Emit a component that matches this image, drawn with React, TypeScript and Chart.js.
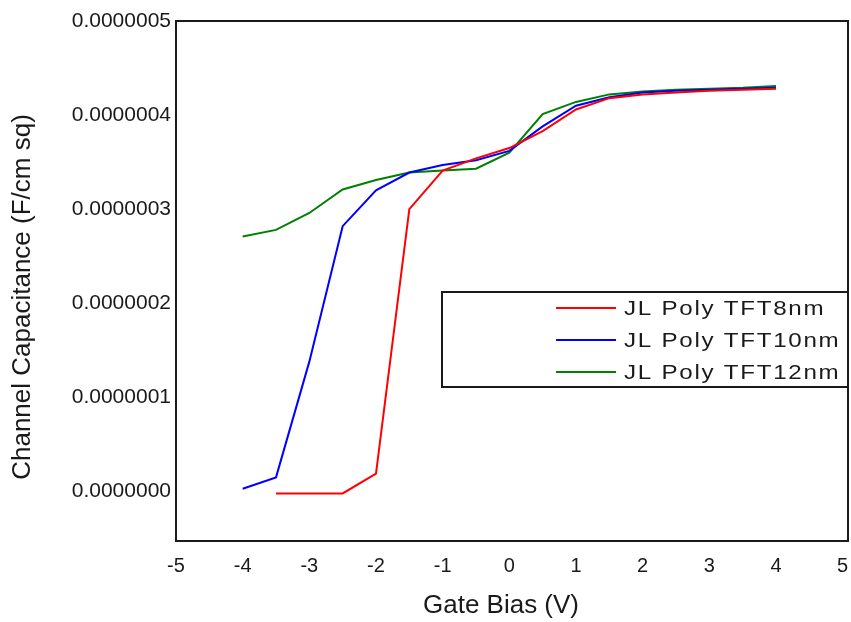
import { useEffect, useRef } from "react";
import { Chart, registerables } from "chart.js";

Chart.register(...registerables);

// Gate bias sweep (V)
const gateBias = [-4, -3.5, -3, -2.5, -2, -1.5, -1, -0.5, 0, 0.5, 1, 1.5, 2, 2.5, 3, 3.5, 4];

// Channel capacitance (F/cm sq) per film thickness
const cap8nm = [
  null, -2e-9, -2e-9, -2e-9, 1.9e-8, 3.0e-7, 3.41e-7, 3.54e-7, 3.65e-7,
  3.83e-7, 4.06e-7, 4.18e-7, 4.22e-7, 4.24e-7, 4.26e-7, 4.27e-7, 4.28e-7,
];
const cap10nm = [
  3e-9, 1.5e-8, 1.38e-7, 2.82e-7, 3.2e-7, 3.39e-7, 3.47e-7, 3.52e-7, 3.62e-7,
  3.88e-7, 4.1e-7, 4.19e-7, 4.24e-7, 4.26e-7, 4.27e-7, 4.28e-7, 4.29e-7,
];
const cap12nm = [
  2.71e-7, 2.78e-7, 2.96e-7, 3.21e-7, 3.31e-7, 3.39e-7, 3.41e-7, 3.43e-7, 3.6e-7,
  4.01e-7, 4.14e-7, 4.22e-7, 4.25e-7, 4.27e-7, 4.28e-7, 4.29e-7, 4.31e-7,
];

const seriesLabels = ["JL Poly TFT8nm", "JL Poly TFT10nm", "JL Poly TFT12nm"];
const seriesColors = ["#ff0000", "#0000ff", "#008000"];

const xTickValues = [-5, -4, -3, -2, -1, 0, 1, 2, 3, 4, 5];
const yTickValues = [0, 0.0000001, 0.0000002, 0.0000003, 0.0000004, 0.0000005];

const xTitle = "Gate Bias (V)";
const yTitle = "Channel Capacitance (F/cm sq)";

const FONT = "'Liberation Sans', Arial, sans-serif";
const INK = "#1a1a1a";

const toPoints = (vals: (number | null)[]) =>
  gateBias.map((x, i) => ({ x, y: vals[i] }));

// Boxed legend in the lower right part of the plot
const boxLegend = {
  id: "boxLegend",
  afterDraw(chart: any) {
    const { ctx, chartArea } = chart;
    const left = 442;
    const top = 292;
    const right = chartArea.right;
    const bottom = 387;
    ctx.save();
    ctx.fillStyle = "#ffffff";
    ctx.fillRect(left, top, right - left, bottom - top);
    ctx.lineWidth = 2;
    ctx.strokeStyle = INK;
    ctx.strokeRect(left, top, right - left, bottom - top);
    chart.data.datasets.forEach((ds: any, i: number) => {
      const y = 308 + i * 32;
      ctx.strokeStyle = ds.borderColor;
      ctx.lineWidth = 2;
      ctx.beginPath();
      ctx.moveTo(556, y);
      ctx.lineTo(616, y);
      ctx.stroke();
      // wide lettering for the entry text
      ctx.save();
      ctx.translate(624, y + 1);
      ctx.scale(1.15, 1);
      ctx.font = `21px ${FONT}`;
      (ctx as any).letterSpacing = "1.5px";
      ctx.textBaseline = "middle";
      ctx.textAlign = "left";
      ctx.fillStyle = INK;
      ctx.fillText(ds.label, 0, 0);
      ctx.restore();
    });
    ctx.restore();
  },
};

// Frame around the plotting area
const plotFrame = {
  id: "plotFrame",
  afterDraw(chart: any) {
    const { ctx, chartArea } = chart;
    ctx.save();
    ctx.lineWidth = 2;
    ctx.strokeStyle = INK;
    ctx.strokeRect(
      chartArea.left,
      chartArea.top,
      chartArea.right - chartArea.left,
      chartArea.bottom - chartArea.top
    );
    ctx.restore();
  },
};

// Axis titles
const axisTitles = {
  id: "axisTitles",
  afterDraw(chart: any) {
    const { ctx } = chart;
    ctx.save();
    ctx.fillStyle = INK;
    ctx.font = `26px ${FONT}`;
    ctx.textAlign = "center";
    ctx.textBaseline = "middle";
    ctx.fillText(xTitle, 501, 606);
    ctx.translate(23, 297);
    ctx.rotate(-Math.PI / 2);
    ctx.fillText(yTitle, 0, 0);
    ctx.restore();
  },
};

export default function App() {
  const canvasRef = useRef<HTMLCanvasElement | null>(null);

  useEffect(() => {
    if (!canvasRef.current) return;
    const datasets = [cap8nm, cap10nm, cap12nm].map((vals, i) => ({
      label: seriesLabels[i],
      data: toPoints(vals),
      borderColor: seriesColors[i],
      backgroundColor: seriesColors[i],
      borderWidth: 2,
      pointRadius: 0,
      tension: 0,
      fill: false,
    }));

    const chart = new Chart(canvasRef.current, {
      type: "line",
      data: { datasets },
      options: {
        animation: false,
        responsive: false,
        devicePixelRatio: 1,
        layout: { padding: { top: 21, right: 3, left: 0, bottom: 0 } },
        plugins: {
          legend: { display: false },
          tooltip: { enabled: false },
        },
        scales: {
          x: {
            type: "linear",
            min: -5,
            max: 5.08,
            grid: { display: false, drawTicks: false },
            border: { display: false },
            afterBuildTicks: (scale: any) => {
              scale.ticks = xTickValues.map((v) => ({ value: v }));
            },
            afterFit: (scale: any) => {
              scale.height = 81;
              scale.paddingLeft = 0;
              scale.paddingRight = 0;
            },
            ticks: {
              autoSkip: false,
              maxRotation: 0,
              padding: 13,
              color: INK,
              font: { family: FONT, size: 20 },
              callback: (v: any) => String(v),
            },
          },
          y: {
            type: "linear",
            min: -5.26e-8,
            max: 5e-7,
            grid: { display: false, drawTicks: false },
            border: { display: false },
            afterBuildTicks: (scale: any) => {
              scale.ticks = yTickValues.map((v) => ({ value: v }));
            },
            afterFit: (scale: any) => {
              scale.width = 176;
              scale.paddingTop = 0;
              scale.paddingBottom = 0;
            },
            ticks: {
              autoSkip: false,
              padding: 5,
              color: INK,
              font: { family: FONT, size: 21 },
              callback: (v: any) => Number(v).toFixed(7),
            },
          },
        },
      },
      plugins: [boxLegend, plotFrame, axisTitles],
    });

    return () => chart.destroy();
  }, []);

  return (
    <div style={{ position: "absolute", left: 0, top: 0, width: 851, height: 622, background: "#fff" }}>
      <canvas ref={canvasRef} width={851} height={622} style={{ display: "block" }} />
    </div>
  );
}
